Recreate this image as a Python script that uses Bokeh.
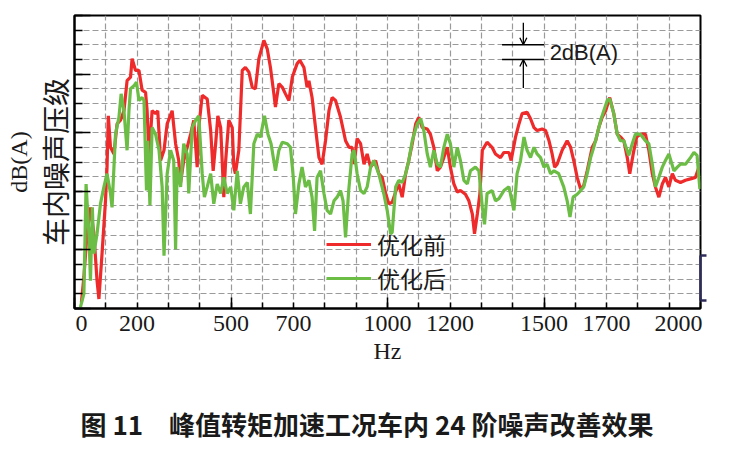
from math import pi
from bokeh.plotting import figure
from bokeh.models import (FixedTicker, LinearAxis, Label, Arrow, OpenHead,
                          Range1d, Legend, LegendItem, Title)
from bokeh.embed import file_html
from bokeh.resources import INLINE

# ---------------- data (Hz, relative dB(A); 1 grid step = 2 dB) ----------------
red_f = [22, 30, 40, 51, 62, 72, 78, 88, 99, 104,
         108, 115, 126, 136, 147, 158, 168, 179, 184, 195,
         206, 216, 227, 232, 238, 243, 248, 259, 266, 275,
         286, 296, 312, 323, 333, 339, 349, 360, 371, 381,
         392, 397, 408, 424, 435, 443, 451, 458, 467, 477,
         483, 493, 504, 509, 514, 525, 536, 546, 557, 568,
         578, 589, 605, 616, 626, 637, 642, 653, 664, 674,
         685, 696, 711, 720, 733, 743, 749, 759, 770, 781,
         791, 802, 813, 823, 834, 850, 866, 877, 887, 893,
         903, 914, 925, 935, 946, 962, 972, 983, 994, 1004,
         1015, 1026, 1036, 1047, 1058, 1068, 1079, 1090, 1100, 1111,
         1127, 1137, 1148, 1159, 1169, 1180, 1191, 1201, 1212, 1223,
         1233, 1249, 1260, 1271, 1278, 1287, 1295, 1303, 1318, 1334,
         1345, 1361, 1372, 1388, 1395, 1409, 1420, 1430, 1446, 1457,
         1468, 1478, 1494, 1505, 1516, 1526, 1534, 1542, 1558, 1574,
         1585, 1595, 1606, 1617, 1627, 1638, 1654, 1665, 1675, 1686,
         1697, 1710, 1723, 1734, 1745, 1755, 1766, 1774, 1785, 1796,
         1808, 1824, 1835, 1846, 1856, 1867, 1878, 1888, 1899, 1910,
         1920, 1936, 1952, 1968, 1984, 1995]
red_db = [0.8, 4.3, 10.2, 13.8, 10.2, 3.8, 1.3, 7.5, 14.7, 19.3,
          26.3, 22.0, 21.1, 25.2, 25.7, 27.0, 31.1, 31.6, 34.1, 32.5,
          32.5, 29.8, 29.5, 27.0, 21.1, 23.8, 27.0, 26.6, 27.0, 20.2,
          21.6, 25.2, 27.0, 22.5, 20.2, 17.2, 20.2, 22.0, 23.8, 25.7,
          19.3, 24.7, 29.1, 28.6, 24.3, 18.8, 22.5, 26.3, 24.7, 15.2,
          20.2, 25.7, 24.7, 19.3, 18.4, 21.6, 32.5, 32.9, 32.3, 30.2,
          30.0, 34.1, 36.6, 35.4, 32.9, 29.3, 27.5, 30.7, 30.2, 29.3,
          28.4, 31.6, 33.4, 33.9, 32.9, 30.2, 31.1, 28.8, 24.7, 20.6,
          19.7, 22.9, 27.0, 28.8, 28.4, 26.1, 22.9, 22.0, 22.0, 19.7,
          23.2, 22.5, 19.7, 21.1, 19.3, 20.2, 18.4, 17.9, 15.7, 14.3,
          14.5, 15.9, 17.0, 15.2, 18.4, 20.2, 22.5, 25.2, 26.1, 24.7,
          24.5, 23.8, 22.0, 18.8, 19.3, 20.6, 22.0, 19.3, 17.0, 15.9,
          16.1, 15.6, 14.7, 12.9, 10.2, 12.9, 15.6, 21.6, 22.7, 22.0,
          21.1, 20.6, 21.3, 21.3, 20.2, 23.4, 25.2, 26.6, 26.8, 25.9,
          24.7, 24.3, 24.5, 24.3, 22.9, 21.1, 19.3, 19.7, 21.6, 22.9,
          22.0, 20.2, 17.9, 16.3, 16.8, 18.8, 22.0, 22.9, 24.7, 26.1,
          27.0, 28.8, 26.6, 23.8, 23.4, 22.9, 20.6, 18.4, 21.1, 23.4,
          23.8, 23.8, 21.6, 18.4, 16.6, 15.2, 17.0, 17.9, 16.6, 18.4,
          17.5, 17.2, 17.5, 17.7, 17.9, 19.3]

green_f = [19, 30, 37, 46, 51, 57, 62, 72, 83, 94,
           104, 115, 120, 131, 142, 149, 158, 168, 174, 179,
           190, 198, 206, 216, 222, 230, 234, 241, 248, 259,
           270, 280, 286, 296, 307, 317, 323, 328, 339, 349,
           360, 365, 376, 387, 397, 408, 415, 424, 435, 445,
           456, 467, 477, 488, 499, 509, 520, 530, 541, 552,
           562, 573, 584, 594, 607, 618, 628, 642, 653, 664,
           680, 690, 699, 706, 717, 727, 738, 749, 759, 767,
           775, 786, 797, 807, 818, 829, 839, 850, 858, 866,
           876, 887, 893, 903, 914, 925, 935, 946, 956, 972,
           988, 999, 1010,
           1015, 1026, 1036, 1047, 1058, 1068, 1079, 1095, 1106, 1116,
           1127, 1137, 1148, 1159, 1169, 1180, 1191, 1201, 1212, 1223,
           1233, 1244, 1255, 1265, 1281, 1292, 1303, 1310, 1318, 1334,
           1345, 1356, 1372, 1388, 1404, 1414, 1425, 1436, 1446, 1457,
           1468, 1478, 1489, 1500, 1510, 1521, 1532, 1547, 1563, 1574,
           1583, 1593, 1606, 1617, 1627, 1638, 1649, 1659, 1670, 1681,
           1691, 1702, 1710, 1723, 1734, 1744, 1755, 1771, 1782, 1792,
           1808, 1824, 1835, 1846, 1856, 1867, 1878, 1888, 1899, 1915,
           1926, 1936, 1952, 1968, 1979, 1989, 1998]
green_db = [0.2, 2.0, 17.0, 10.2, 3.8, 13.8, 7.5, 10.2, 14.3, 16.6,
            18.4, 15.7, 13.8, 23.8, 26.1, 29.3, 27.0, 21.6, 27.0, 30.0,
            30.4, 30.9, 28.4, 28.8, 28.4, 16.1, 22.9, 14.1, 24.7, 23.8,
            21.6, 16.6, 7.2, 18.4, 21.6, 20.2, 8.1, 19.3, 16.6, 22.5,
            21.1, 15.7, 24.7, 25.7, 26.3, 18.4, 15.2, 16.6, 18.4, 14.3,
            17.0, 15.7, 17.9, 15.7, 16.6, 13.4, 18.8, 14.3, 16.6, 17.2,
            12.9, 22.5, 23.8, 23.4, 26.3, 23.8, 22.5, 18.8, 21.6, 22.7,
            22.5, 22.0, 17.9, 12.9, 17.0, 19.3, 16.6, 17.5, 15.2, 10.6,
            17.9, 18.8, 15.7, 13.4, 12.9, 14.7, 15.2, 16.1, 14.7, 9.7,
            16.1, 21.1, 21.6, 18.4, 16.1, 15.7, 16.6, 19.3, 20.2, 18.4,
            15.7, 13.4, 10.2,
            10.4, 16.6, 17.5, 17.2, 18.4, 20.2, 22.9, 25.2, 25.9, 24.3,
            21.1, 19.3, 21.6, 19.7, 19.3, 22.0, 23.8, 22.5, 19.3, 22.0,
            20.2, 17.5, 17.0, 18.8, 19.3, 18.8, 13.8, 11.5, 15.7, 16.1,
            14.7, 15.0, 16.1, 16.6, 13.4, 18.4, 20.2, 23.4, 21.6, 20.6,
            22.0, 21.1, 20.6, 19.3, 19.7, 18.4, 18.8, 18.4, 16.6, 14.7,
            12.5, 15.2, 15.6, 16.1, 16.6, 18.4, 20.6, 22.0, 23.8, 25.7,
            27.0, 28.4, 28.6, 26.6, 23.8, 22.9, 22.9, 20.9, 22.5, 23.8,
            23.8, 22.9, 22.5, 19.7, 16.6, 17.9, 19.3, 20.2, 21.1, 18.8,
            19.3, 19.7, 19.7, 20.6, 21.3, 20.9, 16.3]

tick_labels = ["0", "200", "500", "700", "1000", "1200", "1500", "1700", "2000"]
tick_label_pos = [22, 200, 500, 700, 1000, 1200, 1500, 1700, 1930]
series_names = ["优化前", "优化后"]
caption = "图 11\u3000峰值转矩加速工况车内 24 阶噪声改善效果"

RED = "#ee2a2a"
GREEN = "#6cbd45"
TXT = "#1a1a1a"
NAVY = "#2e2d5a"

p = figure(frame_width=626, frame_height=293,
           x_range=Range1d(0, 2000), y_range=Range1d(0, 40),
           output_backend="svg", toolbar_location=None,
           min_border_left=74, min_border_right=33,
           min_border_top=15, min_border_bottom=142)
p.background_fill_color = "white"
p.border_fill_color = "white"
p.outline_line_color = "black"
p.outline_line_width = 2

# grids
p.xgrid.ticker = FixedTicker(ticks=list(range(100, 2000, 100)))
p.ygrid.ticker = FixedTicker(ticks=list(range(2, 40, 2)))
for g in (p.xgrid, p.ygrid):
    g.grid_line_color = "#9a9a9a"
    g.grid_line_dash = "6 3"
    g.grid_line_width = 1.2

# x axis carrying the ticks
xa = p.xaxis[0]
xa_ticks = [0, 500, 1000, 1500, 2000]
xa.ticker = FixedTicker(ticks=xa_ticks, minor_ticks=list(range(0, 2001, 100)))
xa.major_label_overrides = {t: "" for t in xa_ticks}
xa.major_tick_in = 11
xa.major_tick_out = 0
xa.minor_tick_in = 6
xa.minor_tick_out = 0
xa.major_tick_line_width = 1.5
xa.minor_tick_line_width = 1.5
xa.axis_line_width = 2
xa.major_label_text_font_size = "2px"
xa.major_label_standoff = 0

# x axis carrying the labels
xb = LinearAxis(ticker=FixedTicker(ticks=tick_label_pos),
                major_label_overrides={k: v for k, v in zip(tick_label_pos, tick_labels)})
xb.major_tick_in = 0
xb.major_tick_out = 0
xb.minor_tick_in = 0
xb.minor_tick_out = 0
xb.axis_line_color = None
xb.major_tick_line_color = None
xb.minor_tick_line_color = None
xb.major_label_text_font = "Liberation Serif"
xb.major_label_text_font_size = "24px"
xb.major_label_text_color = TXT
xb.major_label_standoff = 7
xb.axis_label = "Hz"
xb.axis_label_text_font = "Liberation Serif"
xb.axis_label_text_font_style = "normal"
xb.axis_label_text_font_size = "24px"
xb.axis_label_text_color = TXT
xb.axis_label_standoff = 4
p.add_layout(xb, "below")

# y axis (ticks + Chinese title)
ya = p.yaxis[0]
ya_ticks = [0, 8, 16, 24, 32, 40]
ya.ticker = FixedTicker(ticks=ya_ticks, minor_ticks=list(range(0, 41, 2)))
ya.major_label_overrides = {t: "" for t in ya_ticks}
ya.major_tick_in = 16
ya.major_tick_out = 0
ya.minor_tick_in = 8
ya.minor_tick_out = 0
ya.major_tick_line_width = 1.5
ya.minor_tick_line_width = 1.5
ya.axis_line_width = 2
ya.major_label_text_font_size = "2px"
ya.major_label_standoff = 0
ya.axis_label = "车内噪声压级"
ya.axis_label_text_font = "Noto Sans CJK SC"
ya.axis_label_text_font_style = "normal"
ya.axis_label_text_font_size = "28px"
ya.axis_label_text_color = TXT
ya.axis_label_standoff = 0

# outer left axis for "dB(A)"
yb = LinearAxis(ticker=FixedTicker(ticks=[]), axis_label="dB(A)")
yb.axis_line_color = None
yb.major_tick_in = 0
yb.major_tick_out = 0
yb.minor_tick_in = 0
yb.minor_tick_out = 0
yb.major_label_standoff = 0
yb.axis_label_text_font = "Liberation Serif"
yb.axis_label_text_font_style = "normal"
yb.axis_label_text_font_size = "24px"
yb.axis_label_text_color = TXT
yb.axis_label_standoff = 0
p.add_layout(yb, "left")

# right side: spacer + bracket
yr0 = LinearAxis(ticker=FixedTicker(ticks=[]))
yr0.axis_line_color = None
yr0.major_tick_in = 0
yr0.major_tick_out = 6
yr0.major_tick_line_color = None
yr0.minor_tick_line_color = None
yr0.major_label_standoff = 0
p.add_layout(yr0, "right")
br_ticks = [1.09, 7.23]
yr1 = LinearAxis(ticker=FixedTicker(ticks=br_ticks), bounds=(1.09, 7.23))
yr1.major_label_overrides = {t: "" for t in br_ticks}
yr1.major_label_text_font_size = "2px"
yr1.axis_line_color = NAVY
yr1.axis_line_width = 2.5
yr1.major_tick_line_color = NAVY
yr1.major_tick_line_width = 2.5
yr1.major_tick_in = 0
yr1.major_tick_out = 6
yr1.minor_tick_line_color = None
yr1.major_label_standoff = 0
p.add_layout(yr1, "right")

# series
r_red = p.line(red_f, red_db, line_color=RED, line_width=3.2)
r_green = p.line(green_f, green_db, line_color=GREEN, line_width=3.2)

legend = Legend(items=[LegendItem(label=series_names[0], renderers=[r_red]),
                       LegendItem(label=series_names[1], renderers=[r_green])],
                location=(252, 13), orientation="vertical",
                border_line_color=None, background_fill_alpha=0,
                padding=0, margin=0, spacing=0,
                glyph_width=45, glyph_height=30, label_height=30,
                label_standoff=6, label_text_font="Noto Sans CJK SC",
                label_text_font_size="23px", label_text_color=TXT)
p.add_layout(legend)

# 2 dB(A) scale marker
p.segment(x0=[1366, 1366], y0=[36, 34], x1=[1500, 1500], y1=[36, 34],
          line_color="black", line_width=1.5)
p.add_layout(Arrow(end=OpenHead(size=7, line_width=1.3), x_start=1434, y_start=39.0,
                   x_end=1434, y_end=36.0, line_width=1.3))
p.add_layout(Arrow(end=OpenHead(size=7, line_width=1.3), x_start=1434, y_start=30.1,
                   x_end=1434, y_end=34.0, line_width=1.3))
p.add_layout(Label(x=1518, y=34.9, text="2dB(A)", text_align="left",
                   text_baseline="middle", text_font="Liberation Sans",
                   text_font_size="22px", text_color=TXT))

# caption
cap = Title(text=caption, align="left", offset=6, standoff=73,
            text_font="Noto Sans CJK SC", text_font_style="bold",
            text_font_size="26px", text_color=TXT)
p.add_layout(cap, "below")

with open("out.html", "w", encoding="utf-8") as f:
    f.write(file_html(p, INLINE, title="chart"))
